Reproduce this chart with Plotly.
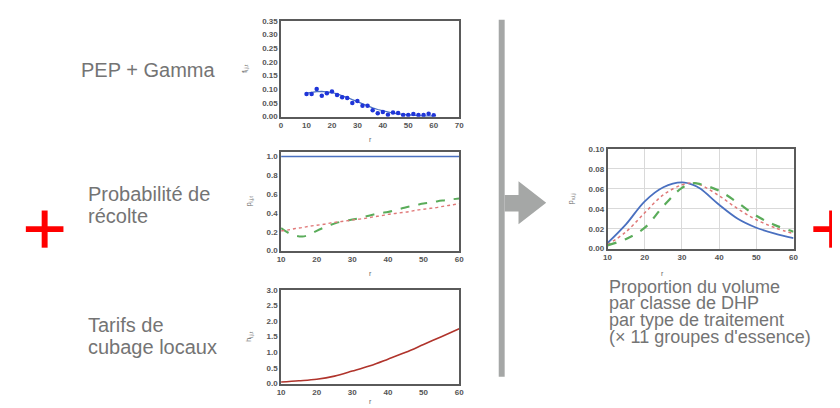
import plotly.graph_objects as go

W, H = 840, 408

# ---------------- data ----------------
# Chart 1: PEP observed proportions + gamma fit
pep_dhp = [10, 12, 14, 16, 18, 20, 22, 24, 26, 28, 30, 32, 34, 36, 38, 40, 42, 44, 46, 48, 50, 52, 54, 56, 58, 60]
pep_obs = [0.083, 0.083, 0.101, 0.076, 0.085, 0.092, 0.079, 0.071, 0.068, 0.050, 0.057, 0.040, 0.040, 0.023,
           0.012, 0.017, 0.007, 0.015, 0.013, 0.006, 0.006, 0.010, 0.006, 0.006, 0.011, 0.005]
gamma_fit = [0.086, 0.089, 0.091, 0.092, 0.091, 0.088, 0.083, 0.077, 0.070, 0.062, 0.054, 0.046, 0.039, 0.032,
             0.026, 0.021, 0.017, 0.013, 0.010, 0.008, 0.006, 0.005, 0.004, 0.003, 0.002, 0.002]

# Chart 2: harvest probability by treatment
p_dhp = [10, 12, 14, 16, 18, 20, 22, 24, 26, 28, 30, 32, 34, 36, 38, 40, 42, 44, 46, 48, 50, 52, 54, 56, 58, 60]
p_coupe_totale = [1.0] * 26
p_green = [0.24, 0.19, 0.16, 0.15, 0.17, 0.21, 0.245, 0.275, 0.30, 0.315, 0.33, 0.345, 0.365, 0.385, 0.40, 0.41,
           0.43, 0.45, 0.47, 0.485, 0.50, 0.51, 0.525, 0.535, 0.545, 0.555]
p_red = [0.21, 0.22, 0.235, 0.245, 0.26, 0.27, 0.28, 0.295, 0.305, 0.315, 0.325, 0.335, 0.345, 0.36, 0.37, 0.385,
         0.395, 0.405, 0.415, 0.43, 0.44, 0.45, 0.46, 0.475, 0.485, 0.50]

# Chart 3: local volume tariffs
v_dhp = [10, 15, 20, 25, 30, 35, 40, 45, 50, 55, 60]
v_tarif = [0.05, 0.09, 0.14, 0.24, 0.40, 0.57, 0.78, 1.00, 1.25, 1.50, 1.75]

# Chart 4: volume proportion by DBH class, per treatment
r_dhp = [10, 15, 20, 25, 30, 33, 35, 40, 45, 50, 55, 60]
r_blue = [0.0056, 0.0246, 0.0475, 0.0616, 0.0665, 0.0640, 0.0600, 0.0440, 0.0300, 0.0210, 0.0150, 0.0105]
r_green = [0.0033, 0.0098, 0.0210, 0.0426, 0.0610, 0.0656, 0.0646, 0.0580, 0.0460, 0.0330, 0.0236, 0.0170]
r_red = [0.0040, 0.0170, 0.0360, 0.0540, 0.0640, 0.0660, 0.0640, 0.0530, 0.0400, 0.0290, 0.0210, 0.0150]

# ---------------- helpers ----------------
def px(x):
    return x / W

def py(y):
    return 1 - y / H

BLUE = "#4a70c0"
DOT_BLUE = "#1f35d8"
GREEN = "#5aac5a"
RED = "#e07878"
DARKRED = "#b0342c"
TXT = "#747474"
AX = "#5a5a5a"

fig = go.Figure()

# chart 1
fig.add_trace(go.Scatter(x=pep_dhp, y=gamma_fit, mode="lines", line=dict(color=BLUE, width=1.2),
                         xaxis="x", yaxis="y", showlegend=False))
fig.add_trace(go.Scatter(x=pep_dhp, y=pep_obs, mode="markers", marker=dict(color=DOT_BLUE, size=4.5),
                         xaxis="x", yaxis="y", showlegend=False))
# chart 2
fig.add_trace(go.Scatter(x=p_dhp, y=p_coupe_totale, mode="lines", line=dict(color=BLUE, width=1.6),
                         xaxis="x2", yaxis="y2", showlegend=False))
fig.add_trace(go.Scatter(x=p_dhp, y=p_green, mode="lines", line=dict(color=GREEN, width=2, dash="dash", shape="spline"),
                         xaxis="x2", yaxis="y2", showlegend=False))
fig.add_trace(go.Scatter(x=p_dhp, y=p_red, mode="lines", line=dict(color=RED, width=1.4, dash="dot", shape="spline"),
                         xaxis="x2", yaxis="y2", showlegend=False))
# chart 3
fig.add_trace(go.Scatter(x=v_dhp, y=v_tarif, mode="lines", line=dict(color=DARKRED, width=1.6, shape="spline"),
                         xaxis="x3", yaxis="y3", showlegend=False))
# chart 4
fig.add_trace(go.Scatter(x=r_dhp, y=r_blue, mode="lines", line=dict(color=BLUE, width=1.8, shape="spline"),
                         xaxis="x4", yaxis="y4", showlegend=False))
fig.add_trace(go.Scatter(x=r_dhp, y=r_red, mode="lines", line=dict(color=RED, width=1.5, dash="dot", shape="spline"),
                         xaxis="x4", yaxis="y4", showlegend=False))
fig.add_trace(go.Scatter(x=r_dhp, y=r_green, mode="lines", line=dict(color=GREEN, width=2.2, dash="dash", shape="spline"),
                         xaxis="x4", yaxis="y4", showlegend=False))

tickfont = dict(family="Liberation Sans", size=8, color="#555555", weight="bold")
titlefont = dict(family="Liberation Sans", size=7, color="#666666")

def xax(dom, rng, dtick, anchor, title, standoff=8, grid=False):
    return dict(domain=dom, range=rng, dtick=dtick, tick0=0, anchor=anchor, showline=True, mirror=True,
                linecolor=AX, linewidth=1.5, ticks="", showgrid=grid, gridcolor="#d9d9d9", zeroline=False,
                tickfont=tickfont, title=dict(text=title, font=titlefont, standoff=standoff))

def yax(dom, rng, dtick, anchor, title, fmt, grid=False):
    return dict(domain=dom, range=rng, dtick=dtick, tick0=0, anchor=anchor, showline=True, mirror=True,
                linecolor=AX, linewidth=1.5, ticks="", showgrid=grid, gridcolor="#d9d9d9", zeroline=False,
                tickformat=fmt, tickfont=tickfont, title=dict(text=title, font=titlefont, standoff=14))

fig.update_layout(
    width=W, height=H, margin=dict(l=0, r=0, t=0, b=0),
    paper_bgcolor="white", plot_bgcolor="white",
    xaxis=xax([px(272), px(452)], [0, 70], 10, "y", "r"),
    yaxis=yax([py(107), py(9)], [0, 0.35], 0.05, "x", "f<sub>i,j,t</sub>", ".2f"),
    xaxis2=xax([px(272), px(452)], [10, 60], 10, "y2", "r"),
    yaxis2=yax([py(244), py(143)], [0, 1.05], 0.2, "x2", "p<sub>i,j,t</sub>", ".1f"),
    xaxis3=xax([px(272), px(452)], [10, 60], 10, "y3", "r", standoff=3),
    yaxis3=yax([py(380), py(284)], [0, 3.0], 0.5, "x3", "h<sub>i,j,t</sub>", ".1f"),
    xaxis4=xax([px(602), px(790)], [10, 60], 10, "y4", "", grid=True),
    yaxis4=yax([py(242), py(140)], [0, 0.10], 0.02, "x4", "p<sub>v,i,j</sub>", ".2f", grid=True),
)

# ---------------- text ----------------
def label(txt, x, y, size):
    fig.add_annotation(text=txt, x=px(x), y=py(y), xref="paper", yref="paper", xanchor="left", yanchor="middle",
                       align="left", showarrow=False, borderpad=0,
                       font=dict(family="Liberation Sans", size=size, color=TXT))

label("PEP + Gamma", 69, 59, 20)
label("Probabilité de", 76, 186, 20)
label("récolte", 76, 209, 20)
label("Tarifs de", 76, 320, 20)
label("cubage locaux", 76, 343, 20)
label("Proportion du volume", 602, 281, 18)
label("par classe de DHP", 602, 298, 18)
label("par type de traitement", 602, 315, 18)
label("(× 11 groupes d'essence)", 602, 332, 18)

# small x-axis title mark of the right chart
fig.add_annotation(text="r", x=px(658), y=py(267), xref="paper", yref="paper", xanchor="center", yanchor="middle",
                   showarrow=False, font=titlefont)

# ---------------- decorations ----------------
GRAY = "#a5a7a6"
fig.add_shape(type="rect", xref="paper", yref="paper", x0=px(492), x1=px(498), y0=py(373), y1=py(8),
              fillcolor=GRAY, line=dict(width=0))
arrow = [(498, 187), (512, 187), (512, 173), (540, 195), (512, 217), (512, 204), (498, 204)]
path = "M " + " L ".join(f"{px(a)},{py(b)}" for a, b in arrow) + " Z"
fig.add_shape(type="path", xref="paper", yref="paper", path=path, fillcolor=GRAY, line=dict(width=0))

def plus(cx, cy, arm=19, th=6):
    fig.add_shape(type="rect", xref="paper", yref="paper", x0=px(cx - arm), x1=px(cx + arm),
                  y0=py(cy + th / 2), y1=py(cy - th / 2), fillcolor="#ff0000", line=dict(width=0))
    fig.add_shape(type="rect", xref="paper", yref="paper", x0=px(cx - th / 2), x1=px(cx + th / 2),
                  y0=py(cy + arm), y1=py(cy - arm), fillcolor="#ff0000", line=dict(width=0))

plus(33, 222)
plus(829, 222)

fig.write_html("out.html")
